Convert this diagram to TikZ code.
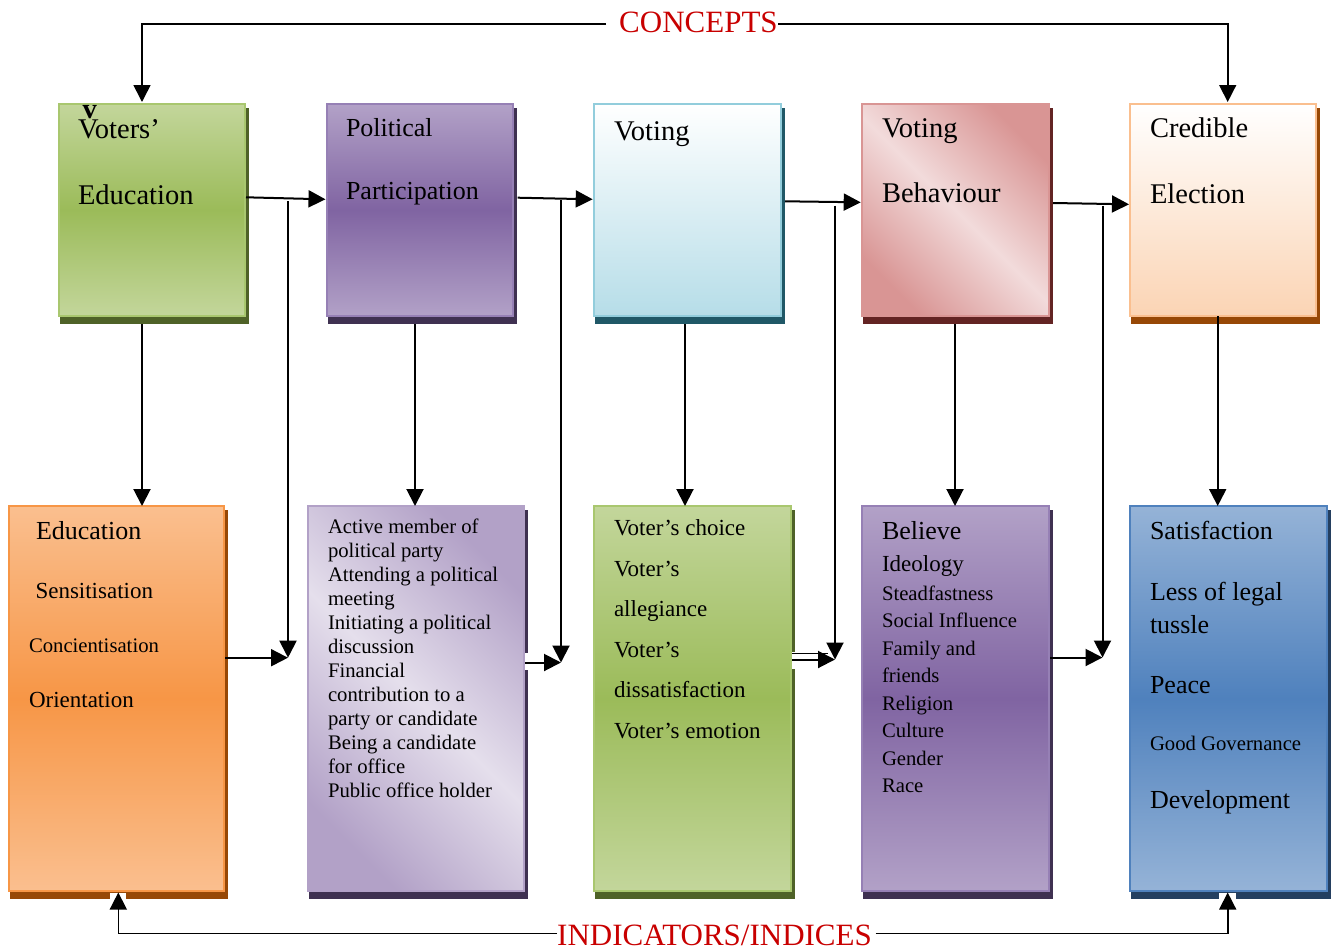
\documentclass[tikz,border=0pt]{standalone}
\usepackage{fontspec}
\setmainfont{Liberation Serif}
\usetikzlibrary{arrows.meta}
\pgfdeclarelayer{bg}
\pgfsetlayers{bg,main}
\definecolor{grL}{HTML}{C3D69B}\definecolor{grM}{HTML}{9BBB59}\definecolor{grS}{HTML}{4F6228}\definecolor{grB}{HTML}{A9C76F}
\definecolor{puL}{HTML}{B2A1C7}\definecolor{puM}{HTML}{8064A2}\definecolor{puS}{HTML}{3F3151}\definecolor{puXL}{HTML}{E5DFEC}\definecolor{puB}{HTML}{9680B5}
\definecolor{blL}{HTML}{B6DDE8}\definecolor{blB}{HTML}{92CDDC}\definecolor{blS}{HTML}{205867}
\definecolor{rdL}{HTML}{F2DBDB}\definecolor{rdM}{HTML}{D99594}\definecolor{rdS}{HTML}{632423}
\definecolor{orXL}{HTML}{FBD4B4}\definecolor{orL}{HTML}{FABF8F}\definecolor{orM}{HTML}{F79646}\definecolor{orS}{HTML}{974806}
\definecolor{bbL}{HTML}{95B3D7}\definecolor{bbM}{HTML}{4F81BD}\definecolor{bbS}{HTML}{243F60}
\definecolor{conred}{RGB}{200,0,0}
\newcommand\szTop{\fontsize{28.5}{34}\selectfont}
\newcommand\szPP{\fontsize{26}{31}\selectfont}
\newcommand\szA{\fontsize{26}{31}\selectfont}
\newcommand\szB{\fontsize{23}{27}\selectfont}
\newcommand\szC{\fontsize{20.7}{24}\selectfont}
\newcommand\szHead{\fontsize{31}{36}\selectfont}
\tikzset{
  box/.style={rectangle, inner sep=0pt, outer sep=0pt, line width=2pt},
  txt/.style={anchor=base west, inner sep=0pt, outer sep=0pt, text=black},
  arr/.style={-{Triangle[length=17pt,width=17pt]}, line width=2pt},
  conline/.style={-{Triangle[length=17pt,width=17pt]}, line width=1.6pt},
  head/.style={anchor=base west, inner sep=0pt, text=conred, font=\szHead},
}
\begin{document}
\begin{tikzpicture}[x=1pt,y=-1pt]
\useasboundingbox (0,0) rectangle (1331,951);

% ---------- top row ----------
\node[box, draw=grB, top color=grL, bottom color=grL, middle color=grM, minimum width=186pt, minimum height=212pt] (t1) at (152,210) {};
\node[box, draw=puB, top color=puL, bottom color=puL, middle color=puM, minimum width=186pt, minimum height=212pt] (t2) at (420,210) {};
\node[box, draw=blB, top color=white, bottom color=blL, minimum width=187pt, minimum height=212pt] (t3) at (687.5,210) {};
\node[box, draw=rdM, top color=rdM, bottom color=rdM, middle color=rdL, shading angle=-45, minimum width=187pt, minimum height=212pt] (t4) at (955.5,210) {};
\node[box, draw=orL, top color=white, bottom color=orXL, minimum width=186pt, minimum height=212pt] (t5) at (1223,210) {};

% ---------- bottom row ----------
\node[box, draw=orM, top color=orL, bottom color=orL, middle color=orM, minimum width=215pt, minimum height=385pt] (b1) at (116.5,698.5) {};
\node[box, draw=puL, top color=puL, bottom color=puL, middle color=puXL, shading angle=-45, minimum width=216pt, minimum height=385pt] (b2) at (416,698.5) {};
\node[box, draw=grB, top color=grL, bottom color=grL, middle color=grM, minimum width=197pt, minimum height=385pt] (b3) at (692.5,698.5) {};
\node[box, draw=puB, top color=puL, bottom color=puL, middle color=puM, minimum width=187pt, minimum height=385pt] (b4) at (955.5,698.5) {};
\node[box, draw=bbM, top color=bbL, bottom color=bbL, middle color=bbM, minimum width=197pt, minimum height=385pt] (b5) at (1228.5,698.5) {};

% ---------- shadows ----------
\begin{pgfonlayer}{bg}
\fill[grS] ([shift={(1,4)}]t1.north west) rectangle ([shift={(4,8)}]t1.south east);
\fill[puS] ([shift={(1,4)}]t2.north west) rectangle ([shift={(4,8)}]t2.south east);
\fill[blS] ([shift={(1,4)}]t3.north west) rectangle ([shift={(4,8)}]t3.south east);
\fill[rdS] ([shift={(1,4)}]t4.north west) rectangle ([shift={(4,8)}]t4.south east);
\fill[orS] ([shift={(1,4)}]t5.north west) rectangle ([shift={(4,8)}]t5.south east);
\fill[orS] ([shift={(1,4)}]b1.north west) rectangle ([shift={(4,8)}]b1.south east);
\fill[puS] ([shift={(1,4)}]b2.north west) rectangle ([shift={(4,8)}]b2.south east);
\fill[grS] ([shift={(1,4)}]b3.north west) rectangle ([shift={(4,8)}]b3.south east);
\fill[puS] ([shift={(1,4)}]b4.north west) rectangle ([shift={(4,8)}]b4.south east);
\fill[bbS] ([shift={(1,4)}]b5.north west) rectangle ([shift={(4,8)}]b5.south east);
\end{pgfonlayer}

% white gaps in the shadows where arrows pass
\fill[white] (110,892.5) rectangle (126,901);
\fill[white] (1219,892.5) rectangle (1236,901);
\fill[white] (525,653) rectangle (529.5,670);
\fill[white] (792,651.5) rectangle (797.5,669);

% ---------- texts in top boxes ----------
\node[txt, font=\szTop\bfseries] (t1v) at (82.5,118) {v};
\node[txt, font=\szTop] (t1a) at (78,138.5) {Voters’};
\node[txt, font=\szTop] (t1b) at (78,204) {Education};
\node[txt, font=\szPP] (t2a) at (346,136.7) {Political};
\node[txt, font=\szPP] (t2b) at (346,199.3) {Participation};
\node[txt, font=\szTop] (t3a) at (614,140) {Voting};
\node[txt, font=\szTop] (t4a) at (882,137.5) {Voting};
\node[txt, font=\szTop] (t4b) at (882,202.3) {Behaviour};
\node[txt, font=\szTop] (t5a) at (1150,137.3) {Credible};
\node[txt, font=\szTop] (t5b) at (1150,203.3) {Election};

% ---------- texts in bottom boxes ----------
\node[txt, font=\szA] (b1a) at (36,539.3) {Education};
\node[txt, font=\szB] (b1b) at (35.5,598.3) {Sensitisation};
\node[txt, font=\szC] (b1c) at (29,652.3) {Concientisation};
\node[txt, font=\szB] (b1d) at (29,707.3) {Orientation};

\foreach \t [count=\i] in {Active member of,political party,Attending a political,meeting,Initiating a political,discussion,Financial,contribution to a,party or candidate,Being a candidate,for office,Public office holder}
  \node[txt, font=\szC] (b2l\i) at (328,{533.3+(\i-1)*24}) {\t};

\foreach \t [count=\i] in {Voter’s choice,Voter’s,allegiance,Voter’s,dissatisfaction,Voter’s emotion}
  \node[txt, font=\szB] (b3l\i) at (614,{535.7+(\i-1)*40.5}) {\t};

\node[txt, font=\szA] (b4a) at (882,539.3) {Believe};
\node[txt, font=\szB] (b4b) at (882,571) {Ideology};
\foreach \t [count=\i] in {Steadfastness,Social Influence,Family and,friends,Religion,Culture,Gender,Race}
  \node[txt, font=\szC] (b4l\i) at (882,{600+(\i-1)*27.5}) {\t};

\node[txt, font=\szA] (b5a) at (1150,539.3) {Satisfaction};
\node[txt, font=\szA] (b5b) at (1150,600) {Less of legal};
\node[txt, font=\szA] (b5c) at (1150,633.3) {tussle};
\node[txt, font=\szA] (b5d) at (1150,693.3) {Peace};
\node[txt, font=\szC] (b5e) at (1150,750) {Good Governance};
\node[txt, font=\szA] (b5f) at (1150,808.3) {Development};

% ---------- headings ----------
\node[head] (concepts) at (619,32.3) {CONCEPTS};
\node[head] (indic) at (557,945) {INDICATORS/INDICES};
\coordinate (cl) at (606,24);
\coordinate (cr) at (778,24);
\coordinate (il) at (557,933.3);
\coordinate (ir) at (875.5,933.3);

\draw[conline] (cl) -| ([shift={(-10,-2)}]t1.north);
\draw[conline] (cr) -| ([shift={(4.7,-2)}]t5.north);
\draw[conline] (il) -| ([shift={(1.8,1.5)}]b1.south);
\draw[conline] (ir) -| ([shift={(-0.8,1.5)}]b5.south);

% ---------- horizontal arrows between concepts ----------
\draw[arr] ([shift={(1,-12.7)}]t1.east) -- ([shift={(-1.5,-10.7)}]t2.west);
\draw[arr] ([shift={(4.7,-12.3)}]t2.east) -- ([shift={(-1.3,-10.7)}]t3.west);
\draw[arr] ([shift={(4,-8.7)}]t3.east) -- ([shift={(-1.3,-7.7)}]t4.west);
\draw[arr] ([shift={(4,-7)}]t4.east) -- ([shift={(-1,-5.7)}]t5.west);

% ---------- concept to indicator arrows ----------
\draw[arr] ([shift={(-10,8)}]t1.south) -- ([xshift=-10pt]t1.south |- b1.north);
\draw[arr] ([shift={(-5,8)}]t2.south) -- ([xshift=-5pt]t2.south |- b2.north);
\draw[arr] ([shift={(-2.5,8)}]t3.south) -- ([xshift=-2.5pt]t3.south |- b3.north);
\draw[arr] ([shift={(-0.5,8)}]t4.south) -- ([xshift=-0.5pt]t4.south |- b4.north);
\draw[arr] ([xshift=-5.3pt]t5.south) -- ([xshift=-5.3pt]t5.south |- b5.north);

% ---------- feeder lines ----------
\coordinate (s1) at (288,201);   \coordinate (j1) at (288,657.7);
\coordinate (s2) at (561,200);   \coordinate (j2) at (561,662.5);
\coordinate (s3) at (835,205.5); \coordinate (j3) at (835,659.5);
\coordinate (s4) at (1102.5,205.5); \coordinate (j4) at (1102.5,657.5);

\draw[arr] (s1) -- (j1);
\draw[arr] ([xshift=1pt]b1.east |- j1) -- (j1);
\draw[arr] (s2) -- (j2);
\draw[arr] ([xshift=1pt]b2.east |- j2) -- (j2);
\draw[arr] (s3) -- (j3);
\draw[arr] ([xshift=1pt]b3.east |- j3) -- (j3);
\draw[line width=1.6pt] ([shift={(1,-6)}]b3.east |- j3) -- ++(36,0);
\draw[arr] (s4) -- (j4);
\draw[arr] ([xshift=1pt]b4.east |- j4) -- (j4);
\end{tikzpicture}
\end{document}
